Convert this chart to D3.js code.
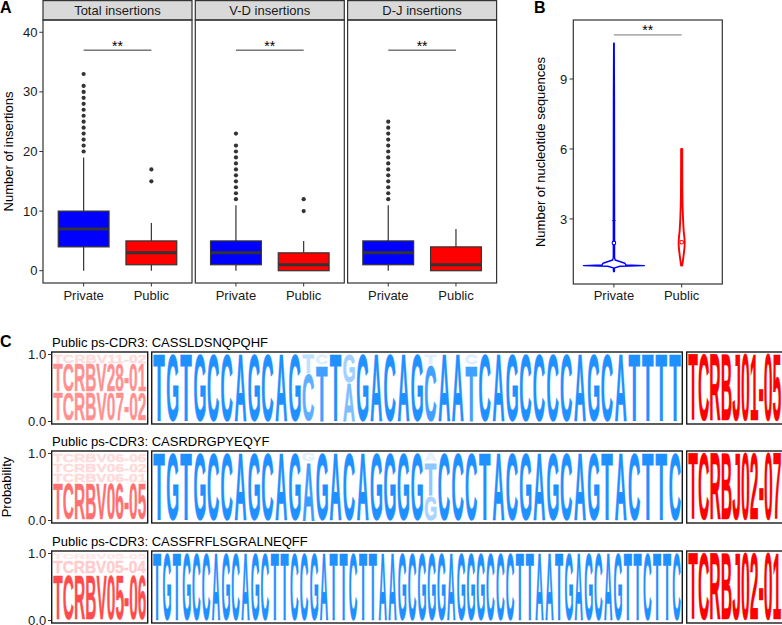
<!DOCTYPE html>
<html><head><meta charset="utf-8">
<script src="https://cdn.jsdelivr.net/npm/d3@7"></script>
<style>
body{margin:0;background:#fff}
svg{display:block}
text{font-family:"Liberation Sans",Arial,sans-serif}
</style>
</head><body>
<svg id="chart" width="782" height="625"></svg>
<script>
// ---------------- DATA ----------------
// Panel A
const facets = ["Total insertions", "V-D insertions", "D-J insertions"];
const groups = ["Private", "Public"];
const privateQ1 = [4, 1, 1];
const privateMedian = [7, 3, 3];
const privateQ3 = [10, 5, 5];
const privateLow = [0, 0, 0];
const privateHigh = [19, 11, 11];
const publicQ1 = [1, 0, 0];
const publicMedian = [3, 1, 1];
const publicQ3 = [5, 3, 4];
const publicLow = [0, 0, 0];
const publicHigh = [8, 5, 7];
const privateOutliers = [
  [20, 21, 22, 23, 24, 25, 26, 27, 28, 29, 30, 31, 33],
  [12, 13, 14, 15, 16, 17, 18, 19, 20, 21, 23],
  [12, 13, 14, 15, 16, 17, 18, 19, 20, 21, 22, 23, 24, 25]
];
const publicOutliers = [[15, 17], [10, 12], []];
const insertionTicks = [0, 10, 20, 30, 40];
const sigLevelA = 37;
const sigLabel = "**";

// Panel B (violin density profiles: value, relative half-width)
const seqTicks = [3, 6, 9];
const privateViolinY = [0.74, 0.9, 0.97, 1.0, 1.03, 1.1, 1.24, 1.35, 2, 3, 5, 8, 10.53];
const privateViolinW = [0.012, 0.02, 0.2, 1.0, 0.39, 0.36, 0.04, 0.02, 0.02, 0.02, 0.018, 0.016, 0.008];
const publicViolinY = [1.0, 1.2, 1.5, 1.8, 2.0, 2.2, 2.5, 3.0, 3.5, 4.0, 5.0, 6.0];
const publicViolinW = [0.018, 0.04, 0.07, 0.095, 0.1, 0.09, 0.065, 0.045, 0.032, 0.024, 0.02, 0.018];
const violinMeans = [1.97, 2.0];
const privateUpperMark = 2.93;
const sigLevelB = 10.89;

// Panel C
const logoTitles = [
  "Public ps-CDR3: CASSLDSNQPQHF",
  "Public ps-CDR3: CASRDRGPYEQYF",
  "Public ps-CDR3: CASSFRFLSGRALNEQFF"
];
const logoSeqs = [
  "TGTGCCAGCAGCTTAGACAGCAATCAGCCCCAGCATTTT",
  "TGTGCCAGCAGAGACAGGGGGCCCTACGAGCAGTACTTC",
  "TGTGCCAGCAGCTTCCGATTCTTAAGCGGGAGGGCCCTTAATGAGCAGTTCTTC"
];
// variable positions (1-based): letters bottom->top with probabilities
const logoVariants = [
  [[12, [["C", 0.72], ["T", 0.28]]],
   [13, [["T", 0.85], ["C", 0.15]]],
   [15, [["A", 0.58], ["G", 0.42]]],
   [21, [["C", 0.85], ["T", 0.15]]],
   [24, [["T", 0.85], ["C", 0.15]]]],
  [[12, [["A", 0.88], ["G", 0.12]]],
   [21, [["G", 0.38], ["T", 0.50], ["A", 0.12]]]],
  []
];
const vGenes = [
  [["TCRBV07-02", 0.43], ["TCRBV28-01", 0.43], ["TCRBV11-02", 0.14]],
  [["TCRBV06-05", 0.56], ["TCRBV06-01", 0.15], ["TCRBV06-02", 0.15], ["TCRBV06-06", 0.14]],
  [["TCRBV05-06", 0.70], ["TCRBV05-04", 0.20], ["TCRBV05-05", 0.10]]
];
const jGenes = [["TCRBJ01-05", 1], ["TCRBJ02-07", 1], ["TCRBJ02-01", 1]];
const probTicks = [0, 1];

// ---------------- DRAW ----------------
const svg = d3.select("#chart");
const dark = "#333333";
const groupColor = d3.scaleOrdinal().domain(groups).range(["#0000ff", "#ff0000"]);

// Panel labels
svg.append("text").attr("x", 0).attr("y", 13).attr("font-size", 16).attr("font-weight", "bold").text("A");
svg.append("text").attr("x", 534).attr("y", 13).attr("font-size", 16).attr("font-weight", "bold").text("B");
svg.append("text").attr("x", 0).attr("y", 347).attr("font-size", 16).attr("font-weight", "bold").text("C");

// ---------- Panel A ----------
const aTop = 20, aBottom = 283, aW = 149, aStep = 152.3, aLeft = 43;
const yA = d3.scaleLinear().domain([-2.06, 42.06]).range([aBottom, aTop]);

svg.append("text")
  .attr("transform", `translate(13,${(aTop + aBottom) / 2}) rotate(-90)`)
  .attr("text-anchor", "middle").attr("font-size", 13).attr("fill", "#000")
  .text("Number of insertions");

facets.forEach((f, i) => {
  const x0 = aLeft + i * aStep;
  const g = svg.append("g");
  const xs = d3.scalePoint().domain(groups).range([x0, x0 + aW]).padding(0.6);
  const bw = xs.step() * 0.75;

  // strip
  g.append("rect").attr("x", x0).attr("y", 0.6).attr("width", aW).attr("height", aTop - 0.6)
    .attr("fill", "#d9d9d9").attr("stroke", dark).attr("stroke-width", 1.2);
  g.append("text").attr("x", x0 + aW / 2).attr("y", 14.7).attr("text-anchor", "middle")
    .attr("font-size", 13).attr("fill", "#1a1a1a").text(f);

  const stats = [
    {g: "Private", q1: privateQ1[i], med: privateMedian[i], q3: privateQ3[i], lo: privateLow[i], hi: privateHigh[i], out: privateOutliers[i]},
    {g: "Public", q1: publicQ1[i], med: publicMedian[i], q3: publicQ3[i], lo: publicLow[i], hi: publicHigh[i], out: publicOutliers[i]}
  ];
  stats.forEach(s => {
    const cx = xs(s.g);
    g.append("line").attr("x1", cx).attr("x2", cx).attr("y1", yA(s.q3)).attr("y2", yA(s.hi))
      .attr("stroke", dark).attr("stroke-width", 1.2);
    g.append("line").attr("x1", cx).attr("x2", cx).attr("y1", yA(s.q1)).attr("y2", yA(s.lo))
      .attr("stroke", dark).attr("stroke-width", 1.2);
    g.append("rect").attr("x", cx - bw / 2).attr("y", yA(s.q3)).attr("width", bw)
      .attr("height", yA(s.q1) - yA(s.q3)).attr("fill", groupColor(s.g))
      .attr("stroke", dark).attr("stroke-width", 1.2);
    g.append("line").attr("x1", cx - bw / 2).attr("x2", cx + bw / 2).attr("y1", yA(s.med)).attr("y2", yA(s.med))
      .attr("stroke", dark).attr("stroke-width", 3);
    g.selectAll(null).data(s.out).enter().append("circle")
      .attr("cx", cx).attr("cy", d => yA(d)).attr("r", 2.1).attr("fill", dark);
  });

  // significance
  g.append("line").attr("x1", xs("Private")).attr("x2", xs("Public"))
    .attr("y1", yA(sigLevelA)).attr("y2", yA(sigLevelA)).attr("stroke", dark).attr("stroke-width", 1);
  g.append("text").attr("x", (xs("Private") + xs("Public")) / 2).attr("y", yA(sigLevelA) + 0.5)
    .attr("text-anchor", "middle").attr("font-size", 14).text(sigLabel);

  // panel border
  g.append("rect").attr("x", x0).attr("y", aTop).attr("width", aW).attr("height", aBottom - aTop)
    .attr("fill", "none").attr("stroke", dark).attr("stroke-width", 1.2);

  // x ticks
  groups.forEach(gr => {
    g.append("line").attr("x1", xs(gr)).attr("x2", xs(gr)).attr("y1", aBottom).attr("y2", aBottom + 3.5)
      .attr("stroke", dark).attr("stroke-width", 1);
    g.append("text").attr("x", xs(gr)).attr("y", 300).attr("text-anchor", "middle")
      .attr("font-size", 13).attr("fill", "#1a1a1a").text(gr);
  });

  if (i === 0) {
    insertionTicks.forEach(t => {
      g.append("line").attr("x1", x0 - 3.7).attr("x2", x0).attr("y1", yA(t)).attr("y2", yA(t))
        .attr("stroke", dark).attr("stroke-width", 1);
      g.append("text").attr("x", x0 - 5.5).attr("y", yA(t) + 4.6).attr("text-anchor", "end")
        .attr("font-size", 13).attr("fill", "#1a1a1a").text(t);
    });
  }
});

// ---------- Panel B ----------
const bLeft = 573.3, bW = 149, bTop = 20, bBottom = 284;
const yB = d3.scaleLinear().domain([0.21, 11.53]).range([bBottom, bTop]);
const xB = d3.scalePoint().domain(groups).range([bLeft, bLeft + bW]).padding(0.6);
const halfMax = xB.step() * 0.45;

svg.append("text")
  .attr("transform", `translate(545,${(bTop + bBottom) / 2}) rotate(-90)`)
  .attr("text-anchor", "middle").attr("font-size", 13).attr("fill", "#000")
  .text("Number of nucleotide sequences");

function violin(cx, ys, ws) {
  const left = ys.map((y, k) => [cx - ws[k] * halfMax, yB(y)]);
  const right = ys.map((y, k) => [cx + ws[k] * halfMax, yB(y)]).reverse();
  return d3.line().curve(d3.curveLinearClosed)(left.concat(right));
}
const gB = svg.append("g");
gB.append("path").attr("d", violin(xB("Private"), privateViolinY, privateViolinW))
  .attr("fill", "#fff").attr("stroke", groupColor("Private")).attr("stroke-width", 1.4).attr("stroke-linejoin", "round");
gB.append("path").attr("d", violin(xB("Public"), publicViolinY, publicViolinW))
  .attr("fill", "#fff").attr("stroke", groupColor("Public")).attr("stroke-width", 1.9).attr("stroke-linejoin", "round");
groups.forEach((gr, k) => {
  gB.append("circle").attr("cx", xB(gr)).attr("cy", yB(violinMeans[k])).attr("r", 1.8)
    .attr("fill", "#fff").attr("stroke", groupColor(gr)).attr("stroke-width", 1.1);
});
gB.append("line").attr("x1", xB("Private") - 1.6).attr("x2", xB("Private") + 1.6)
  .attr("y1", yB(privateUpperMark)).attr("y2", yB(privateUpperMark))
  .attr("stroke", groupColor("Private")).attr("stroke-width", 1);

gB.append("line").attr("x1", xB("Private")).attr("x2", xB("Public"))
  .attr("y1", yB(sigLevelB)).attr("y2", yB(sigLevelB)).attr("stroke", "#777").attr("stroke-width", 1);
gB.append("text").attr("x", (xB("Private") + xB("Public")) / 2).attr("y", yB(sigLevelB) + 0.5)
  .attr("text-anchor", "middle").attr("font-size", 14).text(sigLabel);

gB.append("rect").attr("x", bLeft).attr("y", bTop).attr("width", bW).attr("height", bBottom - bTop)
  .attr("fill", "none").attr("stroke", dark).attr("stroke-width", 1.2);
seqTicks.forEach(t => {
  gB.append("line").attr("x1", bLeft - 3.7).attr("x2", bLeft).attr("y1", yB(t)).attr("y2", yB(t))
    .attr("stroke", dark).attr("stroke-width", 1);
  gB.append("text").attr("x", bLeft - 6).attr("y", yB(t) + 4.6).attr("text-anchor", "end")
    .attr("font-size", 13).attr("fill", "#1a1a1a").text(t);
});
groups.forEach(gr => {
  gB.append("line").attr("x1", xB(gr)).attr("x2", xB(gr)).attr("y1", bBottom).attr("y2", bBottom + 3.5)
    .attr("stroke", dark).attr("stroke-width", 1);
  gB.append("text").attr("x", xB(gr)).attr("y", 300).attr("text-anchor", "middle")
    .attr("font-size", 13).attr("fill", "#1a1a1a").text(gr);
});

// ---------- Panel C ----------
const mctx = document.createElement("canvas").getContext("2d");
const inkCache = {};
function inkBox(str) {
  if (inkCache[str]) return inkCache[str];
  mctx.font = 'bold 100px "Liberation Sans", Arial, sans-serif';
  const m = mctx.measureText(str);
  const b = {l: m.actualBoundingBoxLeft, r: m.actualBoundingBoxRight, a: m.actualBoundingBoxAscent, d: m.actualBoundingBoxDescent};
  inkCache[str] = b;
  return b;
}
// stretched glyph fitting a rectangle; a thin non-scaling outline thickens the strokes
function fitText(g, str, x, y, w, h, color, op, sw) {
  const pad = sw / 2;
  x += pad; y += pad; w -= sw; h -= sw;
  if (h <= 0.3 || w <= 0) return;
  const b = inkBox(str);
  const sx = w / (b.l + b.r), sy = h / (b.a + b.d);
  g.append("text").text(str)
    .attr("font-size", 100).attr("font-weight", "bold")
    .attr("transform", `translate(${x},${y}) scale(${sx},${sy}) translate(${b.l},${b.a})`)
    .attr("fill", color).attr("stroke", color).attr("stroke-width", sw)
    .attr("vector-effect", "non-scaling-stroke").attr("stroke-linejoin", "round")
    .attr("opacity", op);
}

const rowTops = [352, 451, 551];
const rowH = 72;
const vBox = [51.7, 147.7], sBox = [151.7, 682.3], jBox = [686.7, 782.7];
const logoBlue = "#1E90FF", geneRed = "#FF0000";

svg.append("text")
  .attr("transform", `translate(11,487) rotate(-90)`)
  .attr("text-anchor", "middle").attr("font-size", 13).attr("fill", "#000")
  .text("Probability");

logoSeqs.forEach((seq, r) => {
  const top = rowTops[r];
  const g = svg.append("g");
  const yL = d3.scaleLinear().domain([0, 1]).range([top + rowH - 2.5, top + 2.5]);

  g.append("text").attr("x", 52).attr("y", top - 5).attr("font-size", 13).attr("fill", "#000").text(logoTitles[r]);

  // sequence logo letters
  const n = seq.length;
  const xL = d3.scaleBand().domain(d3.range(n)).range([sBox[0] + 0.8, sBox[1] - 0.8]).paddingInner(0.1).paddingOuter(0.03);
  const varMap = new Map(logoVariants[r].map(v => [v[0] - 1, v[1]]));
  for (let i = 0; i < n; i++) {
    const stack = varMap.has(i) ? varMap.get(i) : [[seq[i], 1]];
    let cum = 0;
    stack.forEach(([ch, p], k) => {
      const y1 = yL(cum + p), y0 = yL(cum);
      const gap = (k < stack.length - 1) ? 1 : 0;
      fitText(g, ch, xL(i), y1 + gap, xL.bandwidth(), (y0 - y1) - gap, logoBlue, p, 0.9);
      cum += p;
    });
  }

  // V genes
  let cum = 0;
  vGenes[r].forEach(([name, p], k) => {
    const y1 = yL(cum + p), y0 = yL(cum);
    const gap = 1.2;
    fitText(g, name, vBox[0] + 1.5, y1 + gap / 2, vBox[1] - vBox[0] - 3, (y0 - y1) - gap, geneRed, p, 0.5);
    cum += p;
  });
  // J gene
  const [jn, jp] = jGenes[r];
  fitText(g, jn, jBox[0] + 1.5, yL(jp), jBox[1] - jBox[0] - 3, yL(0) - yL(jp), geneRed, jp, 0.5);

  [vBox, sBox, jBox].forEach(bx => {
    g.append("rect").attr("x", bx[0]).attr("y", top).attr("width", bx[1] - bx[0]).attr("height", rowH)
      .attr("fill", "none").attr("stroke", "#1a1a1a").attr("stroke-width", 1.4);
  });

  probTicks.forEach(t => {
    g.append("line").attr("x1", vBox[0] - 3.7).attr("x2", vBox[0]).attr("y1", yL(t)).attr("y2", yL(t))
      .attr("stroke", dark).attr("stroke-width", 1);
    g.append("text").attr("x", vBox[0] - 5.5).attr("y", yL(t) + 4.6).attr("text-anchor", "end")
      .attr("font-size", 13).attr("fill", "#1a1a1a").text(d3.format(".1f")(t));
  });
});
</script>
</body></html>
